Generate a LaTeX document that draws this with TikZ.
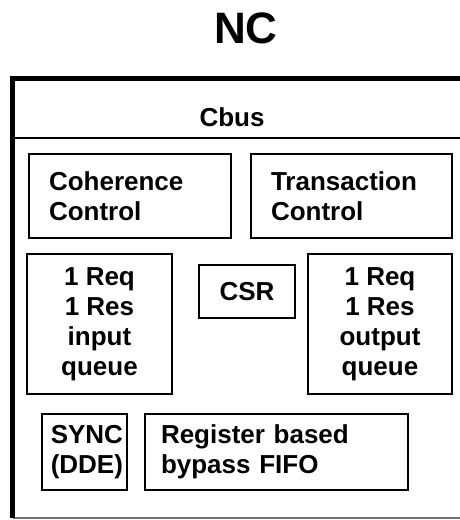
\documentclass[tikz,border=0pt]{standalone}
\usepackage{fontspec}
\setmainfont{Liberation Sans}
\begin{document}
\begin{tikzpicture}[x=1pt,y=-1pt,
  lbl/.style={font=\bfseries\fontsize{26}{30}\selectfont},
  blk/.style={lbl, draw, line width=2.5pt, inner ysep=0pt},
  ctrbox/.style={blk, align=center, inner xsep=0pt},
  leftbox/.style={blk, align=left, inner xsep=20pt}]
\useasboundingbox (0,0) rectangle (460,520);

% title
\node[font=\bfseries\fontsize{44}{48}\selectfont] (title) at (246,28) {NC};

% frame: heavy left and top edges, thin bottom edge, open on the right
\coordinate (tl) at (12.5,78.5);
\coordinate (tr) at (460,78.5);
\coordinate (bl) at (12.5,518);
\coordinate (br) at (460,518);
\coordinate (sl) at (12.5,138);
\coordinate (sr) at (460,138);
\draw[line width=1.3pt, black!55] (bl) -- (br);
\draw[line width=2.5pt] (sl) -- (sr);
\draw[line width=5pt] (10,78.5) -- (tr);
\draw[line width=5pt] (12.5,76) -- (bl);

% bus label
\node[lbl] (cbus) at (232,117) {Cbus};

% control blocks
\node[leftbox, minimum width=202pt, minimum height=84pt, text width=162pt]
  (coh) at (130,196) {Coherence\\Control};
\node[leftbox, minimum width=201pt, minimum height=84pt, text width=161pt]
  (trn) at (351.5,196) {Transaction\\Control};

% queues and registers
\node[ctrbox, minimum width=145pt, minimum height=140pt]
  (inq) at (99.5,324) {1 Req\\1 Res\\input\\queue};
\node[ctrbox, minimum width=96pt, minimum height=53pt]
  (csr) at (247,291.5) {CSR};
\node[ctrbox, minimum width=144pt, minimum height=140pt]
  (outq) at (380,324) {1 Req\\1 Res\\output\\queue};

% synchroniser and bypass FIFO
\node[blk, align=right, inner xsep=4pt, text width=77pt, minimum width=85pt, minimum height=76pt]
  (sync) at (84.5,452) {SYNC\\(DDE)};
\node[blk, align=left, inner xsep=16pt, text width=231pt, minimum width=263pt, minimum height=76pt]
  (fifo) at (276.5,452) {Register based\\bypass FIFO};
\end{tikzpicture}
\end{document}
